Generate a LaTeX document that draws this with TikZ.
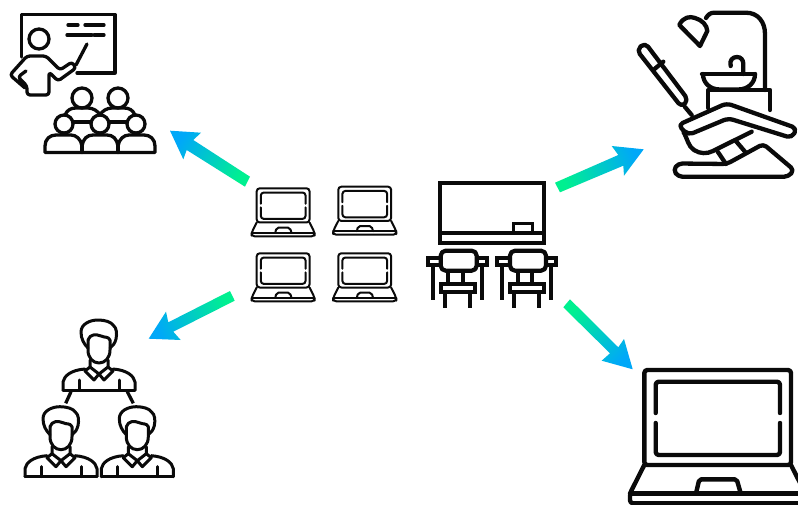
\documentclass[tikz,border=0pt]{standalone}
\definecolor{tailc}{HTML}{00F090}
\definecolor{tipc}{HTML}{00A8F8}
\definecolor{ink}{HTML}{0A0A0A}
\tikzset{
  icon/.style={draw=ink,line width=3.3pt,line join=round,line cap=round},
  thin icon/.style={draw=ink,line width=#1,line join=round,line cap=round},
  arrowshade/.style={draw=none,top color=tipc,bottom color=tailc,shading angle=#1},
}
\newcommand{\laptopicon}[4]{%
\begin{scope}[shift={(#1,#2)},scale=#3]
 \path[thin icon=#4,rounded corners=3] (0,95) -- (0,0) -- (146.7,0) -- (146.7,95) -- cycle;
 \path[thin icon=#4,rounded corners=3] (11.4,43) -- (11.4,11.7) -- (135.7,11.7) -- (135.7,43);
 \path[thin icon=#4,rounded corners=3] (11.4,53) -- (11.4,85) -- (135.7,85) -- (135.7,53);
 \path[thin icon=#4,rounded corners=3] (0,95) -- (-14.3,123.3) -- (-14.3,133.3) -- (161,133.3) -- (161,123.3) -- (146.7,95);
 \path[thin icon=#4] (-14.3,123.3) -- (161,123.3);
 \path[thin icon=#4,rounded corners=2] (51.7,123.3) -- (55,109.3) -- (92.4,109.3) -- (96.4,123.3);
\end{scope}}
\newcommand{\deskicon}[1]{%
\begin{scope}[shift={(#1,0)}]
 \path[icon,line width=4.2pt,line cap=butt,rounded corners=5] (440.7,250.7) rectangle (476.7,270.7);
 \path[icon,line width=4.2pt,line cap=butt,line join=miter] (440.7,258.3) -- (428,258.3) -- (428,265) -- (440.7,265);
 \path[icon,line width=4.2pt,line cap=butt,line join=miter] (476.7,258.3) -- (486.7,258.3) -- (486.7,265) -- (476.7,265);
 \path[icon,line width=4.2pt,line cap=butt] (432.7,265) -- (432.7,300);
 \path[icon,line width=4.2pt,line cap=butt] (481.7,265) -- (481.7,300);
 \path[icon,line width=4.2pt,line cap=butt] (448.3,271) -- (448.3,284);
 \path[icon,line width=4.2pt,line cap=butt] (462.7,271) -- (462.7,284);
 \path[icon,line width=4.2pt,line join=miter] (440.7,284) rectangle (475,292.3);
 \path[icon,line width=4.2pt,line cap=butt] (445,292.3) -- (445,308.3);
 \path[icon,line width=4.2pt,line cap=butt] (470,292.3) -- (470,308.3);
\end{scope}}
\newcommand{\personicon}[2]{%
\begin{scope}[shift={(#1,#2)}]
 \path[icon,line width=3pt] (-11,28) .. controls (-15,24) and (-18,19) .. (-18,12) .. controls (-18,4) and (-9,0) .. (-1,0) .. controls (6,0) and (12,2) .. (14,5) .. controls (18,8) and (18,14) .. (17,19) .. controls (16,23) and (14,26) .. (11,28);
 \path[icon,line width=3pt] (-11,20) -- (-11,30) .. controls (-11,38) and (-6,43) .. (0,43) .. controls (6,43) and (11,38) .. (11,30) -- (11,20);
 \path[icon,line width=3pt] (-11,20) .. controls (-9,14) and (-3,14) .. (2,16) .. controls (6,18) and (9,16) .. (11,20);
 \path[icon,line width=3pt] (-9,40) -- (-9,47) -- (-14,51) -- (-5,60) -- (0,54) -- (5,60) -- (14,51) -- (9,47) -- (9,40);
 \path[icon,line width=3pt] (0,54) -- (-9,47) (0,54) -- (9,47);
 \path[icon,line width=3pt] (-36,70) -- (-36,62) .. controls (-35,56) and (-28,50) .. (-14,49);
 \path[icon,line width=3pt] (36,70) -- (36,62) .. controls (35,56) and (28,50) .. (14,49);
 \path[icon,line width=3pt] (-36,70) -- (36,70);
 \path[icon,line width=3pt] (-20,60) -- (-20,70);
 \path[icon,line width=3pt] (20,60) -- (20,70);
\end{scope}}
\begin{document}
\begin{tikzpicture}[x=1pt,y=-1pt]
\useasboundingbox (0,0) rectangle (798,505);
\clip (0,0) rectangle (798,505);
\fill[white] (0,0) rectangle (798,505);

% arrows
\path[arrowshade=56.5] (250,176.7) -- (245,186.7) -- (186.7,150) -- (183.3,159.3) -- (170,130.7) -- (201,132.7) -- (193.3,140) -- cycle;
\path[arrowshade=-67] (555,182.7) -- (560,192.3) -- (623.3,165.7) -- (624,175.7) -- (643.7,149.3) -- (611.7,146) -- (618.3,155) -- cycle;
\path[arrowshade=-135] (570,299.3) -- (563.3,307.3) -- (610,353.3) -- (601.7,360.7) -- (632.7,369.3) -- (624,339) -- (618.3,347.3) -- cycle;
\path[arrowshade=113] (230,291) -- (234.7,300.7) -- (173.3,331.7) -- (180.7,340) -- (148.7,338.7) -- (166,311.7) -- (168.3,322.3) -- cycle;

% teacher
\path[icon] (21.5,57) -- (21.5,14.5) -- (115,14.5) -- (115,73) -- (77,73);
\path[icon] (68,25) -- (78,25) (85,25) -- (104,25) (67,35) -- (92,35) (94,35) -- (104,35);
\path[icon] (87,44) -- (76,65);
\path[icon] (39,39) circle[radius=10];
\path[icon,rounded corners=3] (26,71) -- (18,77) -- (27,86) -- (27,95) -- (49,95) -- (49,72) -- (58,81) -- (76,68) -- (72,62) -- (60,70) -- (46,56) -- (27,56) -- (10,75) -- (25,88);
% students
\path[icon] (82,98) circle[radius=10];
\path[icon] (118,98) circle[radius=10];
\path[icon] (64,124) circle[radius=9];
\path[icon] (100,124) circle[radius=9];
\path[icon] (136,124) circle[radius=9];
\path[icon] (65,115) .. controls (67,110) and (71,108) .. (76,108) -- (88,108) .. controls (93,108) and (98,111) .. (100,115) .. controls (102,111) and (107,108) .. (112,108) -- (124,108) .. controls (129,108) and (133,110) .. (135,115);
\path[icon] (73,122) -- (91,122) (109,122) -- (127,122);
\path[icon] (45,152.5) -- (45,146) .. controls (45,139) and (50,135) .. (56,135) -- (71,135) .. controls (76,135) and (81,139) .. (82,146) .. controls (83,139) and (87,135) .. (93,135) -- (107,135) .. controls (113,135) and (117,139) .. (118,146) .. controls (119,139) and (124,135) .. (129,135) -- (144,135) .. controls (150,135) and (155,139) .. (155,146) -- (155,152.5) -- cycle;
\path[icon] (82,146) -- (82,152.5) (118,146) -- (118,152.5);

% dental chair
\begin{scope}[icon/.append style={line width=4.3pt}]
\path[icon] (679.3,25) .. controls (683,17) and (690,16) .. (695,18) .. controls (702,20) and (707,25) .. (707.3,31) -- (700,46) -- cycle;
\path[icon] (706,18) .. controls (708,15) and (710,12.7) .. (714,12.7) -- (746,12.7) .. controls (758,12.7) and (765,22) .. (765,34) -- (765,90);
\path[icon] (730.7,66) .. controls (729,60) and (733,57) .. (737,57) .. controls (741,57) and (743.3,60) .. (743.3,64) -- (743.3,74);
\path[icon] (702,74) -- (755,74);
\path[icon] (703,74) .. controls (703,83) and (710,89.5) .. (720,89.5) -- (738,89.5) .. controls (748,89.5) and (755,83) .. (755,74);
\path[icon,line join=round] (708.3,108) -- (708.3,90) -- (770,90) -- (770,110);
\path[icon,rounded corners=5] (678,125) -- (726.7,103.3) -- (797,128.3) -- (791.7,138) -- (728.3,118.3) -- (688.3,135) -- cycle;
\path[icon] (683.5,132) .. controls (688,140) and (688,146) .. (694,150) .. controls (700,154) and (707,154) .. (713,151) -- (751.7,131.7);
\path[icon] (717.7,151.7) -- (726,164) (735,140) -- (745,151.7);
\path[icon,rounded corners=4] (726.7,164) -- (763.3,144) -- (794,170) -- (788.3,176.7) -- (678.3,176.7) -- (673.3,170) -- (678.3,163.5) -- cycle;
\path[icon,rounded corners=5] (636.7,50) -- (645,42.7) -- (688.3,100) -- (681.7,107.3) -- cycle;
\path[icon] (653.3,70) -- (663.3,61.7);
\path[icon] (685,107) -- (691.7,115);
\end{scope}

% people
\personicon{99}{320}
\personicon{61}{406.7}
\personicon{137.3}{406.7}
\path[icon,line cap=butt] (71,391.7) -- (65.7,403.3) (127.3,391.7) -- (133.3,403.3);

% laptops
\laptopicon{256.7}{188.3}{0.36}{2pt}
\laptopicon{338.3}{186.7}{0.36}{2pt}
\laptopicon{256.7}{253.3}{0.36}{2pt}
\laptopicon{338.3}{253.3}{0.36}{2pt}
\laptopicon{644.3}{370}{1}{4.4pt}

% chalkboard
\path[icon,line width=4pt,line join=miter,line cap=butt] (440,183.3) rectangle (544.3,242.7);
\path[icon,line width=4pt,line cap=butt] (440,233.3) -- (544.3,233.3);
\path[icon,line width=3.4pt,line join=miter,line cap=butt] (513.3,233.3) -- (513.3,223.3) -- (532.3,223.3) -- (532.3,233.3);

% desks
\deskicon{0}
\deskicon{69.3}
\end{tikzpicture}
\end{document}
